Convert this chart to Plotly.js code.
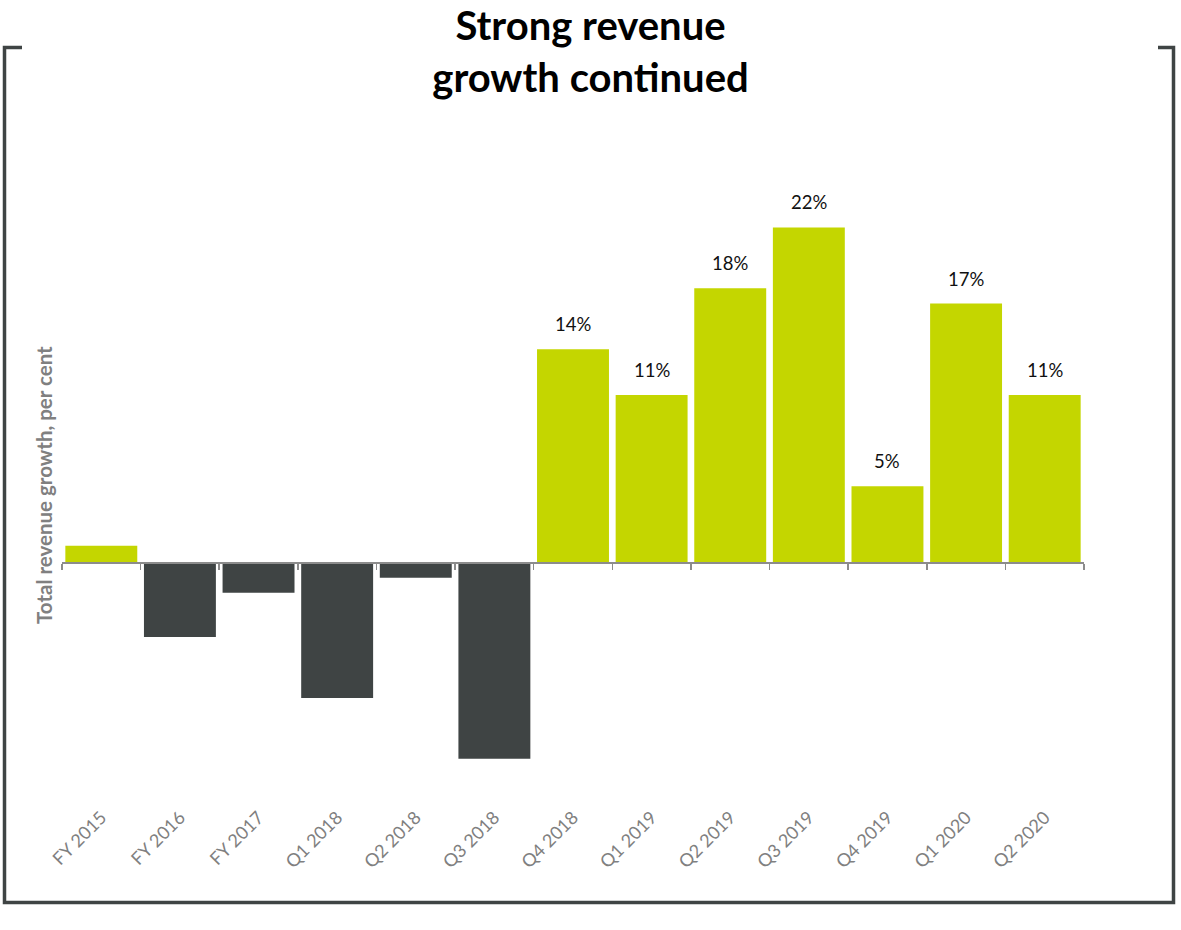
<!DOCTYPE html>
<html>
<head>
<meta charset="utf-8">
<script src="https://cdn.plot.ly/plotly-3.0.1.min.js"></script>
<style>html,body{margin:0;padding:0;background:#fff;}#chart{width:1181px;height:930px;}</style>
</head>
<body>
<div id="chart"></div>
<script>
const categories = ["FY 2015","FY 2016","FY 2017","Q1 2018","Q2 2018","Q3 2018","Q4 2018","Q1 2019","Q2 2019","Q3 2019","Q4 2019","Q1 2020","Q2 2020"];
const growth = [1.1, -4.9, -2.0, -8.9, -1.0, -12.9, 14, 11, 18, 22, 5, 17, 11];
const labels = ["", "", "", "", "", "", "14%", "11%", "18%", "22%", "5%", "17%", "11%"];
const titleText = "Strong revenue<br>growth continued";
const yTitle = "Total revenue growth, per cent";

const GREEN = "#C4D600", DARK = "#3F4444", GREY = "#808080";
const FONT = "Lato, 'Open Sans', sans-serif";
const yMin = -16, yMax = 24;
const L = 62, R = 97, T = 197, B = 124, W = 1181, H = 930;
const pw = W - L - R, ph = H - T - B;
const px = x => (x - L) / pw;
const py = y => (H - B - y) / ph;

const trace = {
  type: "bar",
  x: categories,
  y: growth,
  marker: {color: growth.map((v) => v >= 0 ? GREEN : DARK), line: {width: 0}},
  hoverinfo: "x+y"
};

const annotations = labels.map((t, i) => ({
  x: categories[i], y: growth[i], xref: "x", yref: "y",
  text: t, showarrow: false, yanchor: "bottom", yshift: 12,
  font: {family: FONT, size: 18.5, color: "#111"}
})).filter(a => a.text !== "");

annotations.push({
  xref: "paper", yref: "paper", x: px(44), y: py(485),
  text: "<b>" + yTitle + "</b>", textangle: -90, showarrow: false,
  xanchor: "center", yanchor: "middle",
  font: {family: FONT, size: 20.5, color: GREY}
});

const frame = {
  type: "path", xref: "paper", yref: "paper",
  path: `M ${px(22)} ${py(47.5)} L ${px(4.5)} ${py(47.5)} L ${px(4.5)} ${py(902.5)} L ${px(1173.5)} ${py(902.5)} L ${px(1173.5)} ${py(47.5)} L ${px(1158)} ${py(47.5)}`,
  line: {color: DARK, width: 3.5}
};

const layout = {
  width: W, height: H,
  margin: {l: L, r: R, t: T, b: B},
  paper_bgcolor: "#fff", plot_bgcolor: "#fff",
  showlegend: false,
  bargap: 0.085,
  title: {
    text: "<b>" + titleText + "</b>",
    xref: "container", x: 0.5, xanchor: "center",
    yref: "container", y: 1 - 40 / H, yanchor: "middle",
    font: {family: FONT, size: 40, color: "#000"}
  },
  xaxis: {
    type: "category",
    range: [-0.5, categories.length - 0.5],
    anchor: "free", position: -yMin / (yMax - yMin),
    showline: true, linecolor: "#8c8c8c", linewidth: 1.5,
    ticks: "outside", tickson: "boundaries", ticklen: 6, tickcolor: "#8c8c8c", tickwidth: 1.5,
    showgrid: false, zeroline: false,
    tickangle: -45,
    ticklabelstandoff: 236,
    tickfont: {family: FONT, size: 18, color: GREY}
  },
  yaxis: {
    range: [yMin, yMax],
    showgrid: false, zeroline: false, showline: false,
    showticklabels: false, ticks: ""
  },
  annotations: annotations,
  shapes: [frame]
};

Plotly.newPlot("chart", [trace], layout, {displayModeBar: false, staticPlot: true});
</script>
</body>
</html>
